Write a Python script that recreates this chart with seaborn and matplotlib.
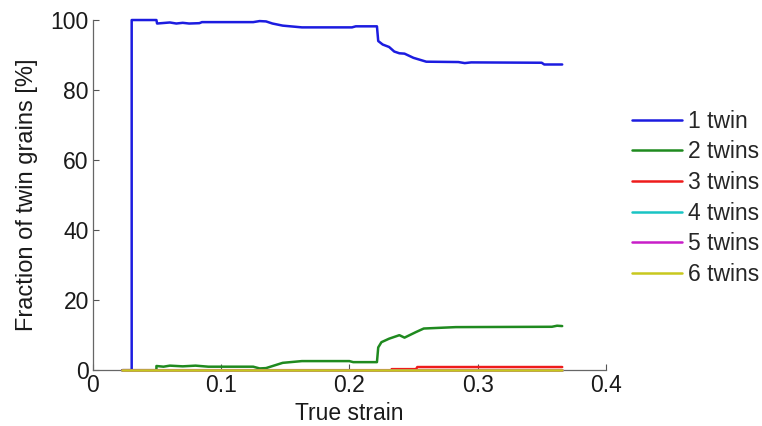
import matplotlib
matplotlib.use("Agg")
import matplotlib.pyplot as plt
import seaborn as sns
import pandas as pd

# ---- data ----
labels = ["1 twin", "2 twins", "3 twins", "4 twins", "5 twins", "6 twins"]
colors = ["#1c1ce0", "#1f8a1f", "#ee1c1c", "#19c4c4", "#c81ec8", "#c8c81e"]

strain_1 = [0.023, 0.0302, 0.0302, 0.0495, 0.050, 0.060, 0.065, 0.070, 0.075, 0.083,
            0.085, 0.125, 0.130, 0.135, 0.140, 0.148, 0.163, 0.202, 0.205, 0.2215,
            0.2225, 0.226, 0.231, 0.235, 0.239, 0.243, 0.250, 0.260, 0.285, 0.290,
            0.295, 0.350, 0.352, 0.366]
frac_1 = [0, 0, 100, 100, 99.0, 99.3, 99.0, 99.2, 99.0, 99.1,
          99.4, 99.4, 99.7, 99.6, 99.0, 98.4, 97.9, 97.9, 98.2, 98.2,
          94.0, 93.0, 92.3, 91.0, 90.5, 90.4, 89.2, 88.1, 88.0, 87.7,
          87.9, 87.8, 87.3, 87.3]

strain_2 = [0.023, 0.0495, 0.0495, 0.055, 0.060, 0.070, 0.080, 0.090, 0.125, 0.130,
            0.135, 0.148, 0.163, 0.200, 0.203, 0.2215, 0.2225, 0.225, 0.231, 0.239,
            0.243, 0.252, 0.258, 0.283, 0.358, 0.362, 0.366]
frac_2 = [0, 0, 1.2, 1.0, 1.3, 1.1, 1.3, 1.0, 1.0, 0.5,
          0.6, 2.1, 2.6, 2.6, 2.3, 2.3, 6.5, 8.0, 9.0, 10.0,
          9.3, 10.9, 11.9, 12.3, 12.4, 12.7, 12.6]

strain_3 = [0.023, 0.233, 0.233, 0.252, 0.253, 0.366]
frac_3 = [0, 0, 0.3, 0.3, 0.9, 0.9]

strain_4 = [0.023, 0.366]
frac_4 = [0, 0]
strain_5 = [0.023, 0.366]
frac_5 = [0, 0]
strain_6 = [0.023, 0.366]
frac_6 = [0, 0]

x_ticks = [0, 0.1, 0.2, 0.3, 0.4]
x_tick_labels = ["0", "0.1", "0.2", "0.3", "0.4"]
y_ticks = [0, 20, 40, 60, 80, 100]

# ---- build long-form table ----
rows = []
for lab, xs, ys in zip(labels,
                       [strain_1, strain_2, strain_3, strain_4, strain_5, strain_6],
                       [frac_1, frac_2, frac_3, frac_4, frac_5, frac_6]):
    for i, (xv, yv) in enumerate(zip(xs, ys)):
        rows.append({"series": lab, "order": i, "strain": xv, "frac": yv})
df = pd.DataFrame(rows)

sns.set_theme(style="ticks")
plt.rcParams["font.family"] = ["Liberation Sans", "DejaVu Sans"]

FS = 16.5
fig = plt.figure(figsize=(7.62, 4.26), dpi=100)
ax = fig.add_axes([0.122, 0.131, 0.673, 0.822])

sns.lineplot(data=df, x="strain", y="frac", hue="series", hue_order=labels,
             palette=colors, estimator=None, sort=False, units="series",
             linewidth=1.8, ax=ax, legend=False)
for ln in ax.get_lines():
    ln.set_clip_on(False)
    ln.set_zorder(3)

ax.set_xlim(0, 0.4)
ax.set_ylim(0, 100)
ax.set_xticks(x_ticks)
ax.set_xticklabels(x_tick_labels)
ax.set_yticks(y_ticks)
ax.tick_params(direction="in", length=4, width=0.8, labelsize=FS,
               colors="#555555", labelcolor="#1a1a1a", pad=3)
for s in ["top", "right"]:
    ax.spines[s].set_visible(False)
for s in ["left", "bottom"]:
    ax.spines[s].set_color("#666666")
    ax.spines[s].set_linewidth(0.9)

ax.set_xlabel("True strain", fontsize=FS, color="#1a1a1a", labelpad=3)
ax.set_ylabel("Fraction of twin grains [%]", fontsize=17, color="#1a1a1a", labelpad=9)

handles = [plt.Line2D([], [], color=c, linewidth=1.8) for c in colors]
fig.legend(handles, labels, loc="upper left", bbox_to_anchor=(0.830, 0.742),
           frameon=False, fontsize=FS, handlelength=2.15, handletextpad=0.27,
           labelspacing=0.33, borderpad=0, borderaxespad=0)

fig.savefig("out.png", dpi=100)
